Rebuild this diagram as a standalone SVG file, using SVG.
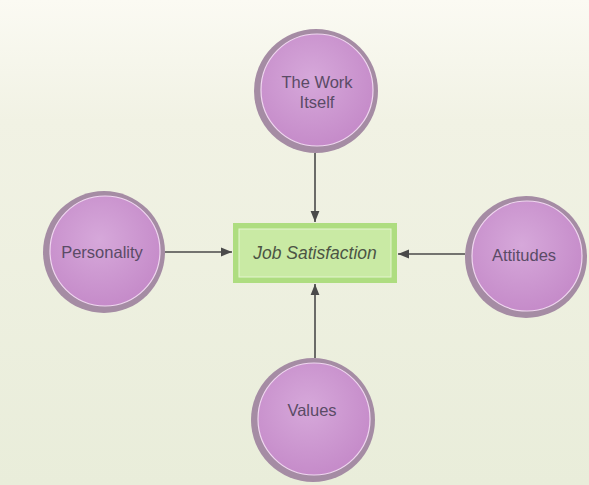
<svg xmlns="http://www.w3.org/2000/svg" width="589" height="485" viewBox="0 0 589 485">
<defs>
<linearGradient id="bg" x1="0" y1="0" x2="0" y2="1">
<stop offset="0" stop-color="#fbfaf3"/>
<stop offset="0.25" stop-color="#f1f2e4"/>
<stop offset="1" stop-color="#e9edda"/>
</linearGradient>
<radialGradient id="ball" cx="0.45" cy="0.4" r="0.65">
<stop offset="0" stop-color="#d6a8da"/>
<stop offset="1" stop-color="#c489c8"/>
</radialGradient>
<marker id="arr" viewBox="0 0 10 10" refX="10" refY="5" markerWidth="11" markerHeight="11" markerUnits="userSpaceOnUse" orient="auto">
<path d="M0,1 L10,5 L0,9 Z" fill="#4a4a4a"/>
</marker>
</defs>
<style>
.ring{fill:#a58ca4;}
.ball{fill:url(#ball);stroke:#f0d6f0;stroke-width:1.2;}
.lbl{font-family:"Liberation Sans",Arial,sans-serif;font-size:16.5px;fill:#5a4b66;text-anchor:middle;}
.con{stroke:#4a4a4a;stroke-width:1.6;fill:none;marker-end:url(#arr);}
</style>
<rect x="0" y="0" width="589" height="485" fill="url(#bg)"/>
<g id="connectors">
<line class="con" x1="315" y1="153" x2="315" y2="222"/>
<line class="con" x1="165" y1="252" x2="232" y2="252"/>
<line class="con" x1="465" y1="254" x2="398" y2="254"/>
<line class="con" x1="315" y1="358" x2="315" y2="284"/>
</g>
<g id="work">
<circle class="ring" cx="316" cy="91" r="62"/>
<circle class="ball" cx="317" cy="90" r="56"/>
<text class="lbl" x="317" y="88">The Work</text>
<text class="lbl" x="317" y="108">Itself</text>
</g>
<g id="personality">
<circle class="ring" cx="104" cy="252" r="61"/>
<circle class="ball" cx="105" cy="251" r="55"/>
<text class="lbl" x="102" y="258">Personality</text>
</g>
<g id="attitudes">
<circle class="ring" cx="526" cy="257" r="61"/>
<circle class="ball" cx="527" cy="256" r="55"/>
<text class="lbl" x="524" y="261">Attitudes</text>
</g>
<g id="values">
<circle class="ring" cx="313" cy="420" r="62"/>
<circle class="ball" cx="314" cy="419" r="56"/>
<text class="lbl" x="312" y="416">Values</text>
</g>
<g id="job">
<rect x="233" y="223" width="164" height="60" fill="#aedd80"/>
<rect x="239" y="229" width="152" height="48" fill="#c9eaa4" stroke="#e4f5cf" stroke-width="1"/>
<text x="315" y="259" font-family="'Liberation Sans',Arial,sans-serif" font-size="17.5" font-style="italic" fill="#4c5444" text-anchor="middle">Job Satisfaction</text>
</g>
</svg>
